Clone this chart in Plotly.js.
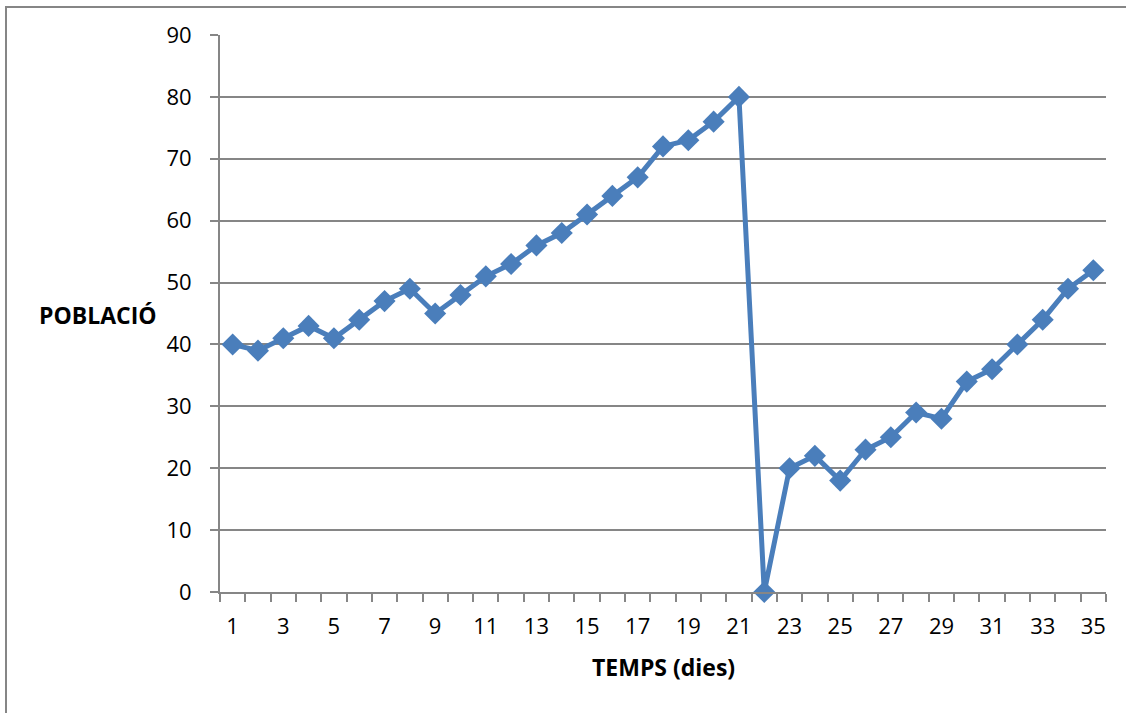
<!DOCTYPE html>
<html>
<head>
<meta charset="utf-8">
<script src="https://cdn.plot.ly/plotly-3.0.1.min.js"></script>
<style>
  html, body { margin: 0; padding: 0; background: #fff; }
  #frame { position: absolute; left: 5px; top: 6px; width: 1200px; height: 800px; border: 2px solid #868686; box-sizing: border-box; }
  #chart { position: absolute; left: 0; top: 0; width: 1126px; height: 713px; }
</style>
</head>
<body>
<div id="frame"></div>
<div id="chart"></div>
<script>
// Population count per day
const days = [];
for (let d = 1; d <= 35; d++) days.push(d);
const population = [40, 39, 41, 43, 41, 44, 47, 49, 45, 48, 51, 53, 56, 58, 61, 64, 67, 72, 73, 76, 80,
                    0, 20, 22, 18, 23, 25, 29, 28, 34, 36, 40, 44, 49, 52];
const dayTicks = days.filter(d => d % 2 === 1);
const dayTickText = dayTicks.map(String);

const W = 1126, H = 713;
const margin = { l: 220, r: 20, t: 35, b: 121 };
const pw = W - margin.l - margin.r, ph = H - margin.t - margin.b;
const gray = '#868686';
const font = '"Open Sans", Lato, sans-serif';

const trace = {
  x: days, y: population, type: 'scatter', mode: 'lines+markers',
  line: { color: '#4A7EBB', width: 5 },
  marker: { symbol: 'diamond', size: 17, color: '#4A7EBB' },
  cliponaxis: false, hoverinfo: 'x+y'
};

const layout = {
  width: W, height: H, margin: margin,
  paper_bgcolor: 'rgba(0,0,0,0)', plot_bgcolor: 'rgba(0,0,0,0)',
  showlegend: false,
  font: { family: font, size: 22, color: '#000' },
  xaxis: {
    range: [0.5, 35.5], tickmode: 'array', tickvals: dayTicks, ticktext: dayTickText,
    ticks: '', showgrid: false, zeroline: false,
    showline: true, linecolor: gray, linewidth: 2,
    minor: { ticks: 'outside', tick0: 0.5, dtick: 1, ticklen: 8, tickwidth: 2, tickcolor: gray, showgrid: false },
    tickfont: { family: font, size: 22 }, ticklabelstandoff: 14
  },
  yaxis: {
    range: [0, 90], dtick: 10, ticks: 'outside', ticklen: 8, tickwidth: 2, tickcolor: gray,
    showgrid: true, gridcolor: gray, gridwidth: 2, zeroline: false,
    showline: true, linecolor: gray, linewidth: 2,
    tickfont: { family: font, size: 22 }, ticklabelstandoff: 14
  },
  annotations: [
    { text: '<b>POBLACIÓ</b>', xref: 'paper', yref: 'paper', x: (98 - margin.l) / pw, y: (592 - 315) / ph,
      xanchor: 'center', yanchor: 'middle', showarrow: false, font: { family: font, size: 23, color: '#000' } },
    { text: '<b>TEMPS (dies)</b>', xref: 'paper', yref: 'paper', x: (663 - margin.l) / pw, y: -(667 - 592) / ph,
      xanchor: 'center', yanchor: 'middle', showarrow: false, font: { family: font, size: 23, color: '#000' } }
  ]
};

Plotly.newPlot('chart', [trace], layout, { displayModeBar: false, staticPlot: true });
</script>
</body>
</html>
